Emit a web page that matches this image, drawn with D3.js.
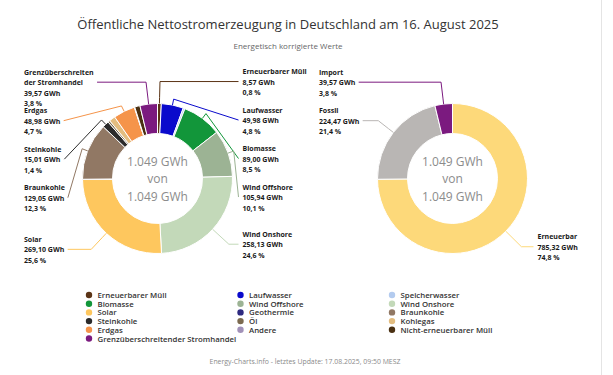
<!DOCTYPE html>
<html lang="de">
<head>
<meta charset="utf-8">
<script src="https://cdn.jsdelivr.net/npm/d3@7"></script>
<style>
  body { margin: 0; background: #fff; }
  svg text { font-family: 'Open Sans', sans-serif; }
  .chartTitle { font-size: 13px; fill: #333; }
  .chartSubtitle { font-size: 8px; fill: #666; }
  .center-label { font-size: 12px; fill: #8c8c8c; }
  .data-label { font-size: 7px; font-weight: 700; fill: #1a1a1a; }
  .legend-entry-label { font-size: 7.8px; font-weight: 600; fill: #333; }
  .credits { font-size: 6.9px; fill: #8a8a8a; }
</style>
</head>
<body>
<svg id="chart"></svg>
<script>
// Sources in stacking order (clockwise from the top), GWh
const sources = ['Erneuerbarer Müll', 'Laufwasser', 'Speicherwasser', 'Biomasse', 'Wind Offshore',
  'Wind Onshore', 'Solar', 'Geothermie', 'Braunkohle', 'Steinkohle', 'Öl', 'Kohlegas', 'Erdgas',
  'Andere', 'Nicht-erneuerbarer Müll', 'Grenzüberschreitender Stromhandel'];
const sourceValues = [8.57, 49.98, 4.10, 89.00, 105.94, 258.13, 269.10, 0.50, 129.05, 15.01, 4.50,
  14.00, 48.98, 1.00, 11.93, 39.57];

// Aggregated groups for the right donut, GWh
const groups = ['Erneuerbar', 'Fossil', 'Import'];
const groupValues = [785.32, 224.47, 39.57];

// Slices that carry a data label
const labelledSources = ['Erneuerbarer Müll', 'Laufwasser', 'Biomasse', 'Wind Offshore', 'Wind Onshore',
  'Solar', 'Braunkohle', 'Steinkohle', 'Erdgas', 'Grenzüberschreitender Stromhandel'];
const labelledGroups = ['Erneuerbar', 'Fossil', 'Import'];
// label text that differs from the series name
const labelNames = {'Grenzüberschreitender Stromhandel': ['Grenzüberschreiten', 'der Stromhandel']};

const chartTitle = 'Öffentliche Nettostromerzeugung in Deutschland am 16. August 2025';
const chartSubtitle = 'Energetisch korrigierte Werte';
const creditsText = 'Energy-Charts.info - letztes Update: 17.08.2025, 09:50 MESZ';

const sourceColors = d3.scaleOrdinal()
  .domain(sources)
  .range(['#5b3416', '#0a0acc', '#b3cbef', '#12963a', '#9cb394', '#c3d9b9', '#fec75e', '#2e2a80',
    '#917864', '#2b2b2b', '#7b6a4f', '#e3bd80', '#f5944a', '#a191b8', '#4a3012', '#7b1a7f']);
const groupColors = d3.scaleOrdinal()
  .domain(groups)
  .range(['#fdd97a', '#b9b6b4', '#7b1a7f']);

const de = d3.formatLocale({decimal: ',', thousands: '.', grouping: [3], currency: ['', ' €']});
const fmtGWh = de.format(',.2f');
const fmtPct = de.format('.1f');
const fmtTotal = de.format(',.0f');

const svg = d3.select('#chart')
  .attr('width', 613)
  .attr('height', 375);

class DonutChart {

  constructor(_config, _names, _values) {
    this.config = {
      svg: _config.svg,
      cx: _config.cx,
      cy: _config.cy,
      colorScale: _config.colorScale,
      labelled: _config.labelled,
      outerRadius: 75,
      innerRadius: 45,
      labelRadius: 97,
      labelSpacing: 38.5,
      lineHeight: 10.5,
      leftLabelX: _config.cx - 133.5,
      rightLabelX: _config.cx + 85
    };
    this.data = _names.map((d, i) => ({name: d, value: _values[i]}));
    this.initVis();
  }

  initVis() {
    let vis = this;
    vis.total = d3.sum(vis.data, d => d.value);

    vis.chartArea = vis.config.svg.append('g')
      .attr('transform', `translate(${vis.config.cx},${vis.config.cy})`);

    vis.arcGenerator = d3.arc()
      .innerRadius(vis.config.innerRadius)
      .outerRadius(vis.config.outerRadius);

    vis.pie = d3.pie().sort(null).value(d => d.value);
    vis.pieData = vis.pie(vis.data);

    vis.renderVis();
    vis.renderLabels();
  }

  renderVis() {
    let vis = this;

    vis.chartArea.selectAll('.wedge')
      .data(vis.pieData)
      .join('path')
        .attr('class', 'wedge')
        .attr('fill', d => vis.config.colorScale(d.data.name))
        .attr('stroke', '#fff')
        .attr('stroke-width', 1)
        .attr('d', vis.arcGenerator);

    // Center text
    const totalText = `${fmtTotal(vis.total)} GWh`;
    vis.chartArea.selectAll('.center-label')
      .data([totalText, 'von', totalText])
      .join('text')
        .attr('class', 'center-label')
        .attr('text-anchor', 'middle')
        .attr('dominant-baseline', 'central')
        .attr('y', (d, i) => (i - 1) * 17.5)
        .text(d => d);
  }

  renderLabels() {
    let vis = this;
    const c = vis.config;

    let labels = vis.pieData
      .filter(d => c.labelled.includes(d.data.name))
      .map(d => {
        const mid = (d.startAngle + d.endAngle) / 2;
        return {
          d: d,
          mid: mid,
          right: Math.sin(mid) >= 0,
          y: c.cy - c.labelRadius * Math.cos(mid)
        };
      });

    // Push labels down so they do not overlap
    [true, false].forEach(side => {
      const list = labels.filter(l => l.right === side).sort((a, b) => a.y - b.y);
      for (let i = 1; i < list.length; i++) {
        list[i].y = Math.max(list[i].y, list[i - 1].y + c.labelSpacing);
      }
    });

    const entry = c.svg.append('g').selectAll('.label-entry')
      .data(labels)
      .join('g')
        .attr('class', 'label-entry');

    const text = entry.append('text')
      .attr('class', 'data-label')
      .attr('dominant-baseline', 'central');

    text.selectAll('tspan')
      .data(l => {
        const names = labelNames[l.d.data.name] || [l.d.data.name];
        return names.concat([`${fmtGWh(l.d.data.value)} GWh`, `${fmtPct(l.d.data.value / vis.total * 100)} %`])
          .map((t, i) => ({t: t, i: i, l: l, n: names.length}));
      })
      .join('tspan')
        .attr('x', o => o.l.right ? c.rightLabelX : c.leftLabelX)
        .attr('y', o => o.l.y + (o.i - 1) * c.lineHeight)
        .text(o => o.t);

    // Connectors: horizontal to the slice ray, then in to the slice edge
    entry.each(function(l) {
      const g = d3.select(this);
      const w = g.select('text').node().getBBox().width;
      const startX = l.right ? c.rightLabelX - 4 : c.leftLabelX + w + 3;
      const sin = Math.sin(l.mid), cos = Math.cos(l.mid);
      const breakAt = [c.cx + sin * (c.outerRadius + 6), c.cy - cos * (c.outerRadius + 6)];
      const touch = [c.cx + sin * c.outerRadius, c.cy - cos * c.outerRadius];
      const path = d3.path();
      path.moveTo(startX, l.y);
      if (Math.abs(cos) > 1e-3) {
        const t = (c.cy - l.y) / cos;
        const crookX = c.cx + sin * t;
        const ok = l.right ? (crookX <= startX && crookX >= breakAt[0]) : (crookX >= startX && crookX <= breakAt[0]);
        if (t > 0 && ok) path.lineTo(crookX, l.y);
      }
      path.lineTo(breakAt[0], breakAt[1]);
      path.lineTo(touch[0], touch[1]);
      g.insert('path', 'text')
        .attr('d', path.toString())
        .attr('fill', 'none')
        .attr('stroke', c.colorScale(l.d.data.name))
        .attr('stroke-width', 1);
    });
  }
}

// Titles
svg.append('text')
  .attr('class', 'chartTitle')
  .attr('x', 288)
  .attr('y', 24)
  .attr('text-anchor', 'middle')
  .attr('dominant-baseline', 'central')
  .text(chartTitle);

svg.append('text')
  .attr('class', 'chartSubtitle')
  .attr('x', 288)
  .attr('y', 45.5)
  .attr('text-anchor', 'middle')
  .attr('dominant-baseline', 'central')
  .text(chartSubtitle);

// faint frame line on the right
svg.append('line')
  .attr('x1', 601.5).attr('x2', 601.5)
  .attr('y1', 0).attr('y2', 375)
  .attr('stroke', '#e4e4e4');

new DonutChart({svg: svg, cx: 157.5, cy: 178.5, colorScale: sourceColors, labelled: labelledSources},
  sources, sourceValues);
new DonutChart({svg: svg, cx: 452.5, cy: 178.5, colorScale: groupColors, labelled: labelledGroups},
  groups, groupValues);

// Legend, three columns, row by row
const legendCfg = {x: 89, y: 295, colWidth: 151.5, rowHeight: 8.7, radius: 3.2};
const legendEntry = svg.append('g').selectAll('.legend-entry')
  .data(sources)
  .join('g')
    .attr('class', 'legend-entry')
    .attr('transform', (d, i) =>
      `translate(${legendCfg.x + (i % 3) * legendCfg.colWidth},${legendCfg.y + Math.floor(i / 3) * legendCfg.rowHeight})`);

legendEntry.append('circle')
  .attr('r', legendCfg.radius)
  .attr('fill', d => sourceColors(d));

legendEntry.append('text')
  .attr('class', 'legend-entry-label')
  .attr('x', 8.5)
  .attr('dominant-baseline', 'central')
  .text(d => d);

svg.append('text')
  .attr('class', 'credits')
  .attr('x', 305)
  .attr('y', 361)
  .attr('text-anchor', 'middle')
  .attr('dominant-baseline', 'central')
  .text(creditsText);
</script>
</body>
</html>
